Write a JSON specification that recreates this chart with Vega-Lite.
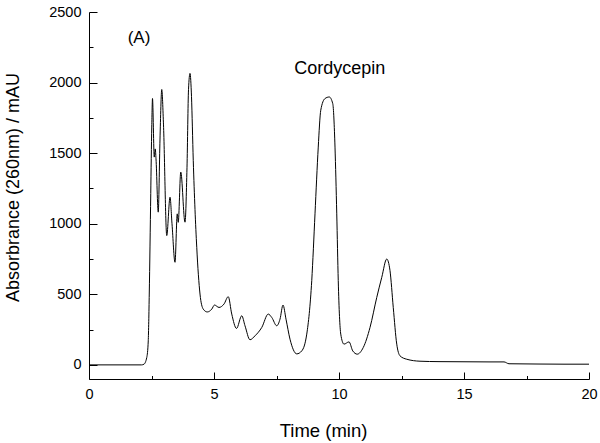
{
  "$schema": "https://vega.github.io/schema/vega-lite/v6.json",
  "autosize": "none",
  "width": 500,
  "height": 367,
  "padding": {"left": 89, "top": 12, "right": 11, "bottom": 64},
  "background": "white",
  "config": {"view": {"stroke": null}, "font": "Liberation Sans"},
  "data": {"values": [
    {"t": 0, "v": 0}, {"t": 1, "v": 0}, {"t": 2.1, "v": 0}, {"t": 2.2, "v": 5},
    {"t": 2.31, "v": 52}, {"t": 2.37, "v": 170}, {"t": 2.41, "v": 502}, {"t": 2.47, "v": 1213},
    {"t": 2.51, "v": 1685}, {"t": 2.54, "v": 1887}, {"t": 2.61, "v": 1472}, {"t": 2.65, "v": 1530},
    {"t": 2.68, "v": 1460}, {"t": 2.77, "v": 1082}, {"t": 2.84, "v": 1600}, {"t": 2.91, "v": 1951},
    {"t": 2.98, "v": 1700}, {"t": 3.11, "v": 916}, {"t": 3.24, "v": 1188}, {"t": 3.32, "v": 1000},
    {"t": 3.44, "v": 727}, {"t": 3.53, "v": 1070}, {"t": 3.57, "v": 1010}, {"t": 3.67, "v": 1366},
    {"t": 3.84, "v": 1011}, {"t": 3.92, "v": 1400}, {"t": 3.98, "v": 1950}, {"t": 4.04, "v": 2065},
    {"t": 4.1, "v": 1900}, {"t": 4.17, "v": 1449}, {"t": 4.31, "v": 833}, {"t": 4.44, "v": 502},
    {"t": 4.57, "v": 395}, {"t": 4.73, "v": 375}, {"t": 4.91, "v": 395}, {"t": 5.02, "v": 424},
    {"t": 5.2, "v": 407}, {"t": 5.4, "v": 431}, {"t": 5.57, "v": 483}, {"t": 5.71, "v": 360},
    {"t": 5.9, "v": 258}, {"t": 6.11, "v": 348}, {"t": 6.24, "v": 277}, {"t": 6.44, "v": 178},
    {"t": 6.64, "v": 206}, {"t": 6.91, "v": 265}, {"t": 7.17, "v": 360}, {"t": 7.31, "v": 336},
    {"t": 7.51, "v": 277}, {"t": 7.64, "v": 324}, {"t": 7.76, "v": 424}, {"t": 7.88, "v": 324},
    {"t": 8.04, "v": 182}, {"t": 8.31, "v": 78}, {"t": 8.51, "v": 99}, {"t": 8.71, "v": 218},
    {"t": 8.91, "v": 597}, {"t": 9.04, "v": 1070}, {"t": 9.17, "v": 1543}, {"t": 9.27, "v": 1804},
    {"t": 9.44, "v": 1887}, {"t": 9.61, "v": 1898}, {"t": 9.75, "v": 1851}, {"t": 9.84, "v": 1543},
    {"t": 9.91, "v": 1070}, {"t": 9.97, "v": 597}, {"t": 10.07, "v": 218}, {"t": 10.2, "v": 147},
    {"t": 10.4, "v": 163}, {"t": 10.55, "v": 99}, {"t": 10.73, "v": 76}, {"t": 10.97, "v": 123},
    {"t": 11.24, "v": 265}, {"t": 11.51, "v": 478}, {"t": 11.71, "v": 620}, {"t": 11.91, "v": 750},
    {"t": 12.04, "v": 668}, {"t": 12.17, "v": 407}, {"t": 12.31, "v": 147}, {"t": 12.44, "v": 64},
    {"t": 12.71, "v": 40}, {"t": 13.24, "v": 26}, {"t": 14, "v": 23}, {"t": 15, "v": 22},
    {"t": 16, "v": 21}, {"t": 16.6, "v": 21}, {"t": 16.8, "v": 8}, {"t": 18, "v": 6},
    {"t": 19, "v": 5}, {"t": 20, "v": 5}
  ]},
  "layer": [
    {
      "mark": {"type": "line", "color": "black", "strokeWidth": 1, "interpolate": "monotone"},
      "encoding": {
        "x": {"field": "t", "type": "quantitative",
          "scale": {"domain": [0, 20], "nice": false, "zero": false},
          "axis": {"title": "Time (min)", "values": [0, 5, 10, 15, 20], "grid": false, "format": "d", "labelFlush": false,
            "domainColor": "black", "tickColor": "black", "tickSize": -7, "labelPadding": 15,
            "labelFontSize": 14.5, "labelColor": "black", "labelFont": "Liberation Sans",
            "titleFontSize": 18.5, "titleFontWeight": "normal", "titleColor": "black", "titleFont": "Liberation Sans",
            "titleX": 234, "titleY": 57.5, "titleAlign": "center", "titleBaseline": "alphabetic"}},
        "y": {"field": "v", "type": "quantitative",
          "scale": {"domain": [-100, 2500], "nice": false, "zero": false},
          "axis": {"title": "Absorbrance (260nm) / mAU", "values": [0, 500, 1000, 1500, 2000, 2500], "grid": false, "format": "d", "labelFlush": false,
            "domainColor": "black", "tickColor": "black", "tickSize": -8, "labelPadding": 16,
            "labelFontSize": 14.5, "labelColor": "black", "labelFont": "Liberation Sans",
            "titleFontSize": 18, "titleFontWeight": "normal", "titleColor": "black", "titleFont": "Liberation Sans",
            "titleX": -70.5, "titleY": 175, "titleAngle": -90, "titleAlign": "center", "titleBaseline": "alphabetic"}}
      }
    },
    {
      "mark": {"type": "line", "opacity": 0},
      "encoding": {
        "x": {"field": "t", "type": "quantitative",
          "axis": {"orient": "bottom", "title": null, "values": [2.5, 7.5, 12.5, 17.5], "labels": false, "domain": false, "grid": false,
            "tickColor": "black", "tickSize": -3.5}},
        "y": {"field": "v", "type": "quantitative",
          "axis": {"orient": "left", "title": null, "values": [250, 750, 1250, 1750, 2250], "labels": false, "domain": false, "grid": false,
            "tickColor": "black", "tickSize": -4}}
      }
    },
    {
      "data": {"values": [{"label": "(A)"}]},
      "mark": {"type": "text", "fontSize": 17, "font": "Liberation Sans", "color": "black", "baseline": "alphabetic"},
      "encoding": {"x": {"datum": 2.0, "axis": null}, "y": {"datum": 2278, "axis": null}, "text": {"field": "label"}}
    },
    {
      "data": {"values": [{"label": "Cordycepin"}]},
      "mark": {"type": "text", "fontSize": 18, "font": "Liberation Sans", "color": "black", "baseline": "alphabetic"},
      "encoding": {"x": {"datum": 10.03, "axis": null}, "y": {"datum": 2061, "axis": null}, "text": {"field": "label"}}
    }
  ],
  "resolve": {"axis": {"x": "independent", "y": "independent"}}
}
